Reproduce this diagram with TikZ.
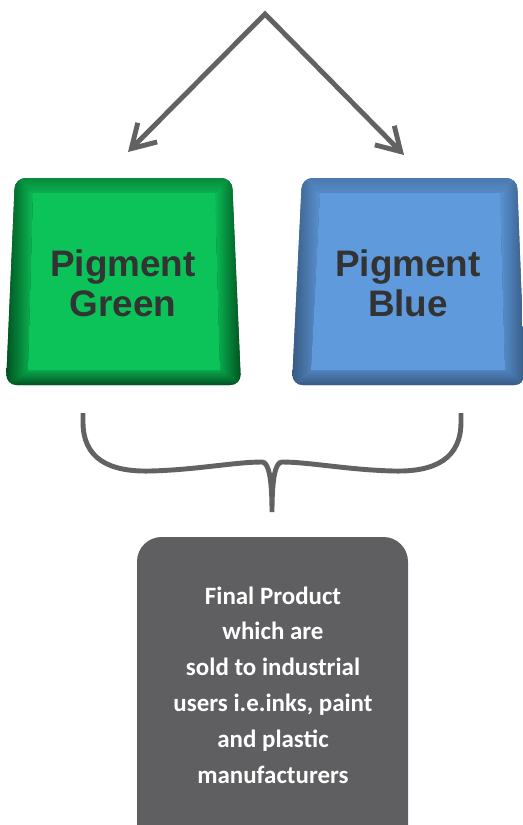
\documentclass[tikz,border=0pt]{standalone}
\usepackage{fontspec}
\setmainfont{Liberation Sans}
\newfontfamily\calfont{Carlito}
\usetikzlibrary{arrows.meta}

\definecolor{gmain}{HTML}{0CC35A}
\definecolor{gdark}{HTML}{00521F}
\definecolor{bmain}{HTML}{5F9ADC}
\definecolor{bdark}{HTML}{375A84}
\definecolor{linegray}{HTML}{626262}
\definecolor{prodgray}{HTML}{5F5F61}
\definecolor{textgray}{HTML}{333333}

\tikzset{
  pigtext/.style={align=center, text=textgray, font=\bfseries\fontsize{21}{22.7}\selectfont},
  prodtext/.style={align=center, text=white, font=\calfont\bfseries\fontsize{14.2}{20.4}\selectfont},
  pigarrow/.style={draw=linegray, line width=2.8pt, line join=miter,
    {Straight Barb[length=13pt,width=15.5pt]}-{Straight Barb[length=13pt,width=15.5pt]}},
  brace/.style={draw=linegray, line width=2.8pt}
}

\begin{document}
\begin{tikzpicture}[x=0.02cm,y=-0.02cm]
  \useasboundingbox (0,0) rectangle (523,825);
  \clip (0,0) rectangle (523,825);

  % arrows from the top
  \coordinate (apex) at (265,14);
  \coordinate (tipG) at (128,152);
  \coordinate (tipB) at (404,155);
  \draw[pigarrow] (tipG) -- (apex) -- (tipB);

  % green box
  \begin{scope}
    \clip[rounded corners=6pt] (15,178) -- (232,178) -- (241,385) -- (6,385) -- cycle;
    \fill[gdark] (0,170) rectangle (250,392);
    \shade[left color=gdark, right color=gmain!95!black] (6,385) -- (15,178) -- (33,193) -- (28,370) -- cycle;
    \shade[left color=gmain!95!black, right color=gdark] (232,178) -- (241,385) -- (220,370) -- (215,193) -- cycle;
    \shade[top color=gdark!50!gmain, bottom color=gmain!90!black] (15,178) -- (232,178) -- (215,193) -- (33,193) -- cycle;
    \shade[top color=gmain!85!black, bottom color=gdark] (6,385) -- (241,385) -- (220,370) -- (28,370) -- cycle;
    \fill[gmain] (33,193) -- (215,193) -- (220,370) -- (28,370) -- cycle;
  \end{scope}
  \node[pigtext] (green) at (123,283) {Pigment\\Green};

  % blue box
  \begin{scope}
    \clip[rounded corners=6pt] (302,178) -- (517,178) -- (525,385) -- (292,385) -- cycle;
    \fill[bdark] (285,170) rectangle (530,392);
    \shade[left color=bdark, right color=bmain!95!black] (292,385) -- (302,178) -- (320,193) -- (311,370) -- cycle;
    \shade[left color=bmain!95!black, right color=bdark] (517,178) -- (525,385) -- (505,370) -- (500,193) -- cycle;
    \shade[top color=bdark!50!bmain, bottom color=bmain!90!black] (302,178) -- (517,178) -- (500,193) -- (320,193) -- cycle;
    \shade[top color=bmain!85!black, bottom color=bdark] (292,385) -- (525,385) -- (505,370) -- (311,370) -- cycle;
    \fill[bmain] (320,193) -- (500,193) -- (505,370) -- (311,370) -- cycle;
  \end{scope}
  \node[pigtext] (blue) at (408,283) {Pigment\\Blue};

  % brace
  \coordinate (braceL) at (83,413);
  \coordinate (braceR) at (461,413);
  \coordinate (braceTip) at (272,512);
  \draw[brace] (braceL) -- (83,422) .. controls (83,458) and (108,472) .. (150,471)
    .. controls (195,470) and (235,462) .. (262,462)
    .. controls (269,462) and (272,480) .. (braceTip)
    .. controls (272,480) and (275,462) .. (282,462)
    .. controls (309,462) and (349,470) .. (394,471)
    .. controls (436,472) and (461,458) .. (461,422) -- (braceR);

  % final product
  \fill[prodgray, rounded corners=14pt] (137,537) rectangle (408,870);
  \node[prodtext] (product) at (273,685) {Final Product\\which are\\sold to industrial\\users i.e.inks, paint\\and plastic\\manufacturers};
\end{tikzpicture}
\end{document}
